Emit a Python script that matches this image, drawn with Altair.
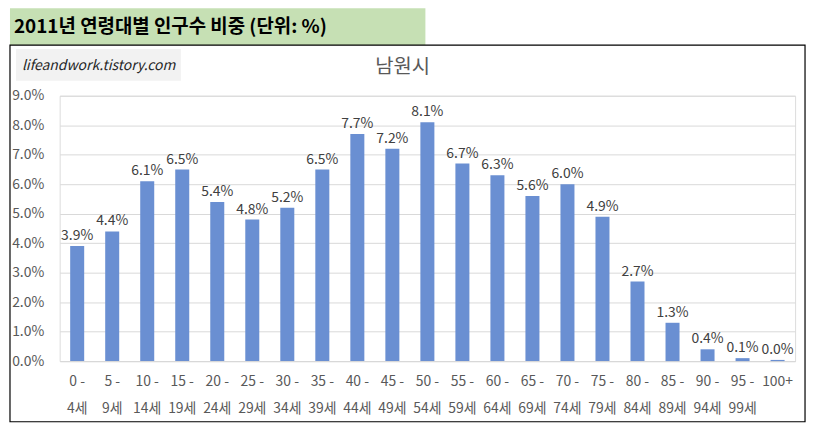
import altair as alt
import pandas as pd

# ── Data (남원시, 2011) ──
age_groups = ['0 - 4세', '5 - 9세', '10 - 14세', '15 - 19세', '20 - 24세', '25 - 29세',
              '30 - 34세', '35 - 39세', '40 - 44세', '45 - 49세', '50 - 54세', '55 - 59세',
              '60 - 64세', '65 - 69세', '70 - 74세', '75 - 79세', '80 - 84세', '85 - 89세',
              '90 - 94세', '95 - 99세', '100+']
shares = [3.9, 4.4, 6.1, 6.5, 5.4, 4.8, 5.2, 6.5, 7.7, 7.2, 8.1, 6.7,
          6.3, 5.6, 6.0, 4.9, 2.7, 1.3, 0.4, 0.1, 0.04]
y_ticks = [0, 1, 2, 3, 4, 5, 6, 7, 8, 9]

df = pd.DataFrame({'age': age_groups, 'share': shares})

FONT = 'Noto Sans CJK KR'
BAR = '#6a8fd2'
GRAY = '#595959'

W, H = 740, 267

base = alt.Chart(df)

x_enc = alt.X(
    'age:N', sort=age_groups, title=None,
    scale=alt.Scale(paddingInner=0.6, paddingOuter=0.3),
    axis=alt.Axis(
        labelAngle=0, labelFontSize=14, labelColor=GRAY, labelFont=FONT,
        labelLineHeight=27, labelPadding=14, ticks=False,
        domainColor='#d9d9d9', labelExpr="split(replace(datum.label, '- ', '-\\n'), '\\n')"
    )
)
y_enc = alt.Y(
    'share:Q', title=None,
    scale=alt.Scale(domain=[0, 9], nice=False),
    axis=alt.Axis(
        values=y_ticks, labelFontSize=14, labelColor=GRAY, labelFont=FONT,
        labelPadding=16, ticks=False, domain=False, gridColor='#d9d9d9',
        labelOverlap=False, labelExpr="format(datum.value, '.1f') + '%'"
    )
)

bars = base.mark_bar(color=BAR).encode(x=x_enc, y=y_enc)

labels = base.mark_text(dy=-10, fontSize=14, font=FONT, color='#404040').transform_calculate(
    share_lbl="format(datum.share, '.1f') + '%'"
).encode(x=x_enc, y=y_enc, text='share_lbl:N')

# ── Decorations: heading box, chart frame, watermark, chart title ──
one = pd.DataFrame({'k': [0]})

frame = alt.Chart(one).mark_rect(fill=None, stroke='#000000', strokeWidth=1.2).encode(
    x=alt.value(-50), x2=alt.value(750), y=alt.value(-51), y2=alt.value(328)
)
head_box = alt.Chart(one).mark_rect(fill='#c6e0b4').encode(
    x=alt.value(-50), x2=alt.value(368), y=alt.value(-88), y2=alt.value(-51)
)
head_text = alt.Chart(one).mark_text(
    text='2011년 연령대별 인구수 비중 (단위: %)', align='left', baseline='middle',
    fontSize=19, fontWeight='bold', font=FONT, color='#000000'
).encode(x=alt.value(-46), y=alt.value(-69))
mark_box = alt.Chart(one).mark_rect(fill='#f2f2f2').encode(
    x=alt.value(-44), x2=alt.value(122), y=alt.value(-47), y2=alt.value(-15)
)
mark_text = alt.Chart(one).mark_text(
    text='lifeandwork.tistory.com', align='left', baseline='middle',
    fontSize=14, fontStyle='italic', font=FONT, color='#262626'
).encode(x=alt.value(-38), y=alt.value(-30))
title_text = alt.Chart(one).mark_text(
    text='남원시', align='center', baseline='middle',
    fontSize=20, font=FONT, color=GRAY
).encode(x=alt.value(345), y=alt.value(-29))

chart = alt.layer(
    head_box, frame, mark_box, bars, labels, head_text, mark_text, title_text
).properties(
    width=W, height=H,
    autosize=alt.AutoSizeParams(type='none'),
    padding={'left': 52, 'top': 87, 'right': 14, 'bottom': 64}
).configure_view(stroke='transparent').configure(font=FONT)

chart.save("out.html", embed_options={"renderer": "svg", "actions": False})
